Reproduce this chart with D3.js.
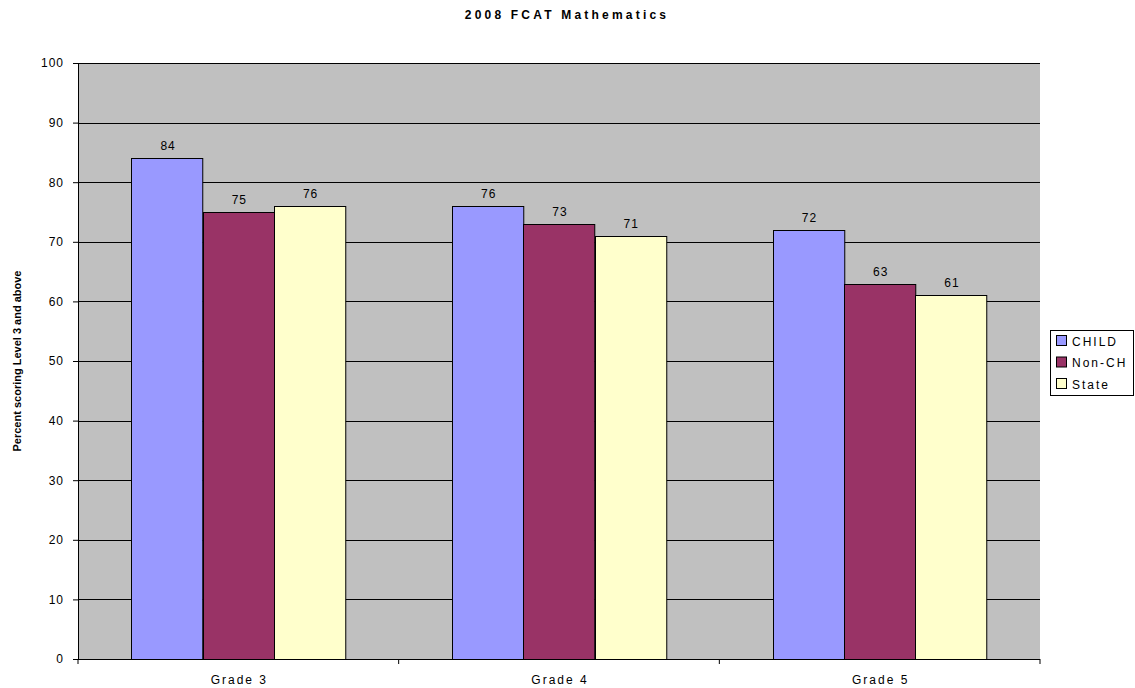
<!DOCTYPE html>
<html><head><meta charset="utf-8">
<script src="https://cdn.jsdelivr.net/npm/d3@7"></script>
<style>
body{margin:0;background:#fff;}
text{font-family:"Liberation Sans",Arial,sans-serif;fill:#000;}
</style></head>
<body>
<svg id="c" width="1135" height="688"></svg>
<script>
const categories = ["Grade 3","Grade 4","Grade 5"];
const seriesNames = ["CHILD","Non-CH","State"];
const seriesColors = ["#9999ff","#993366","#ffffcc"];
const childValues = [84,76,72];
const nonChValues = [75,73,63];
const stateValues = [76,71,61];
const yTicks = [0,10,20,30,40,50,60,70,80,90,100];
const series = [childValues, nonChValues, stateValues];

const svg = d3.select("#c");
const L=78, R=1040, T=63, B=659;
const x = d3.scaleBand().domain(categories).range([L,R]).paddingInner(0).paddingOuter(0);
const y = d3.scaleLinear().domain([0,100]).range([B,T]);
const barW = x.bandwidth()/4.5;
const gapOuter = barW*0.75;

svg.append("rect").attr("x",L).attr("y",T).attr("width",R-L).attr("height",B-T).attr("fill","#c0c0c0");

svg.append("g").selectAll("line").data(yTicks.filter(d=>d>0)).join("line")
  .attr("x1",L).attr("x2",R).attr("y1",d=>Math.round(y(d))+0.5).attr("y2",d=>Math.round(y(d))+0.5)
  .attr("stroke","#000").attr("stroke-width",1);

// bars
series.forEach((vals,si)=>{
  const g = svg.append("g");
  g.selectAll("rect").data(vals).join("rect")
    .attr("x",(d,i)=>Math.round(x(categories[i])+gapOuter+si*barW)+0.5)
    .attr("y",d=>Math.round(y(d))+0.5)
    .attr("width",barW).attr("height",d=>B-Math.round(y(d)))
    .attr("fill",seriesColors[si]).attr("stroke","#000").attr("stroke-width",1);
  g.selectAll("text").data(vals).join("text")
    .attr("x",(d,i)=>x(categories[i])+gapOuter+si*barW+barW/2+1)
    .attr("y",d=>y(d)-8)
    .attr("text-anchor","middle").attr("font-size",12).attr("letter-spacing","1px")
    .text(d=>d);
});

// axes
const yAxis = d3.axisLeft(y).tickValues(yTicks).tickSize(5).tickPadding(9);
const ya = svg.append("g").attr("transform",`translate(${L},0)`).call(yAxis);
ya.select(".domain").attr("stroke","#000");
ya.selectAll("text").attr("font-size",12).attr("letter-spacing","1px").style("font-family","'Liberation Sans',Arial,sans-serif");

const xa = svg.append("g").attr("transform",`translate(0,${B})`);
xa.append("line").attr("x1",L).attr("x2",R).attr("y1",0.5).attr("y2",0.5).attr("stroke","#000");
const bounds = categories.map(c=>x(c)).concat([R]);
xa.selectAll("line.t").data(bounds).join("line").attr("class","t")
  .attr("x1",d=>d).attr("x2",d=>d).attr("y1",0).attr("y2",5).attr("stroke","#000");
xa.selectAll("text").data(categories).join("text")
  .attr("x",d=>x(d)+x.bandwidth()/2+1).attr("y",25)
  .attr("text-anchor","middle").attr("font-size",12).attr("letter-spacing","2px").text(d=>d);

// title
svg.append("text").attr("x",567).attr("y",19).attr("text-anchor","middle")
  .attr("font-size",12).attr("font-weight","bold").attr("letter-spacing","3.2px").text("2008 FCAT Mathematics");

// y label
svg.append("text").attr("transform",`translate(21,${(T+B)/2}) rotate(-90)`)
  .attr("text-anchor","middle").attr("font-size",11).attr("font-weight","bold").text("Percent scoring Level 3 and above");

// legend
const lg = svg.append("g");
lg.append("rect").attr("x",1050.5).attr("y",330.5).attr("width",83).attr("height",65).attr("fill","#fff").attr("stroke","#000");
seriesNames.forEach((n,i)=>{
  const yy = 341 + i*21.5;
  lg.append("rect").attr("x",1056.5).attr("y",yy-5.5).attr("width",10).attr("height",10)
    .attr("fill",seriesColors[i]).attr("stroke","#000");
  lg.append("text").attr("x",1072).attr("y",yy+4.5).attr("font-size",12).attr("letter-spacing","2px").text(n);
});
</script>
</body></html>
